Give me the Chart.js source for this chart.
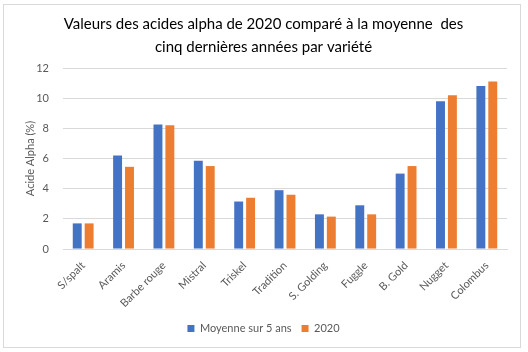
<!DOCTYPE html>
<html>
<head>
<meta charset="utf-8">
<script src="https://cdn.jsdelivr.net/npm/chart.js@4"></script>
<style>
  html, body { margin: 0; padding: 0; background: #ffffff; }
  .chart-container {
    position: absolute; left: 3px; top: 4px;
    width: 516px; height: 342px;
    border: 1px solid #d9d9d9;
  }
</style>
</head>
<body>
<div class="chart-container"><canvas id="alphaChart"></canvas></div>
<script>
const varieties = ['S/spalt', 'Aramis', 'Barbe rouge', 'Mistral', 'Triskel', 'Tradition', 'S. Golding', 'Fuggle', 'B. Gold', 'Nugget', 'Colombus'];
const avgFiveYears = [1.7, 6.2, 8.25, 5.85, 3.15, 3.9, 2.3, 2.9, 5.0, 9.8, 10.8];
const values2020 = [1.7, 5.45, 8.2, 5.5, 3.4, 3.6, 2.15, 2.3, 5.5, 10.2, 11.1];
const titleLines = ['Valeurs des acides alpha de 2020 comparé à la moyenne  des', 'cinq dernières années par variété'];

const FONT = "Lato, 'Open Sans', sans-serif";
Chart.defaults.font.family = FONT;
Chart.defaults.color = '#595959';

const canvas = document.getElementById('alphaChart');
const ctx = canvas.getContext('2d');

new Chart(ctx, {
  type: 'bar',
  data: {
    labels: varieties,
    datasets: [
      { label: 'Moyenne sur 5 ans', data: avgFiveYears, backgroundColor: '#4472C4', barPercentage: 0.75, categoryPercentage: 0.59 },
      { label: '2020', data: values2020, backgroundColor: '#ED7D31', barPercentage: 0.75, categoryPercentage: 0.59 }
    ]
  },
  options: {
    responsive: true,
    maintainAspectRatio: false,
    animation: false,
    layout: { padding: { left: 16, right: 13, top: 0, bottom: 3 } },
    plugins: {
      title: {
        display: true,
        text: titleLines,
        color: '#000000',
        font: { size: 15, weight: 'normal', lineHeight: 1.5 },
        padding: { top: 8, bottom: 10 }
      },
      legend: {
        position: 'bottom',
        labels: { boxWidth: 7, boxHeight: 7, font: { size: 11 }, color: '#595959', padding: 10 }
      },
      tooltip: { enabled: false }
    },
    scales: {
      x: {
        grid: { display: false, drawTicks: false },
        border: { color: '#d9d9d9' },
        ticks: { font: { size: 11 }, maxRotation: 45, minRotation: 45, padding: 10 },
        afterFit: scale => { scale.height -= 7; }
      },
      y: {
        min: 0,
        max: 12,
        ticks: { stepSize: 2, font: { size: 11 }, padding: 14 },
        grid: { color: '#d9d9d9', drawTicks: false },
        border: { display: false },
        title: { display: true, text: 'Acide Alpha (%)', font: { size: 11 }, padding: 4 },
        afterFit: scale => { scale.width = 43; }
      }
    }
  }
});
</script>
</body>
</html>
